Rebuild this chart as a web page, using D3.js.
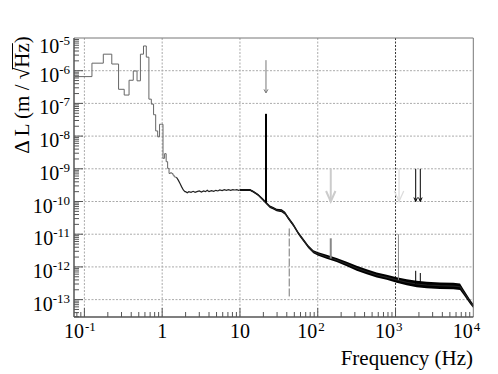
<!DOCTYPE html>
<html><head><meta charset="utf-8">
<script src="https://cdn.jsdelivr.net/npm/d3@7"></script>
<style>body{margin:0;background:#fff}svg{display:block}text{font-family:"Liberation Serif","Tinos","Times New Roman",serif}</style>
</head><body>
<svg id="c" width="498" height="374"></svg>
<script>
// ---------------- data ----------------
// low-frequency histogram (0.05 Hz bins)
const histCenter = [0.10,0.15,0.20,0.25,0.30,0.35,0.40,0.45,0.50,0.55,0.60,0.65,0.70,0.75,0.80,0.85,0.90,0.95,1.00,1.05,1.10,1.15,1.20,1.25,1.30,1.35,1.40,1.45,1.50];
const histValue  = [6.6e-7,1.7e-6,3.2e-6,1.6e-6,2.7e-7,1.8e-7,5.1e-7,9.8e-7,4.9e-7,3.2e-6,5.7e-6,2.6e-6,1.35e-7,9.5e-8,4.5e-8,1.44e-8,9.5e-9,2.3e-8,2.3e-8,2.1e-9,2.9e-9,1.65e-9,1.03e-9,7.2e-10,7.6e-10,7.2e-10,6.4e-10,5.7e-10,5.5e-10];
const histBinWidth = 0.05;

// spectrum line (centre of the noise)
const lineFreq  = [1.525,1.61,1.69,1.78,1.87,1.96,2.0,2.1,2.2,2.35,2.5,2.65,2.8,3.0,3.2,3.4,3.6,3.8,4.0,4.3,4.6,4.9,5.2,5.5,5.9,6.3,6.7,7.1,7.6,8.1,8.6,9.1,9.6,10,13.5,14.9,17.2,20,21.6,24.3,26.9,29.6,34.4,38,41.9,48.6,56.3,65.3,75.7,87.8,101.7,130,175,236,317,426,573,770,1035,1393,1872,2517,3735,5540,6750,7450,8230,9080,10000];
const lineValue = [5.5e-10,4.5e-10,3.6e-10,2.8e-10,2.25e-10,2.0e-10,2.0e-10,1.85e-10,2.0e-10,1.9e-10,2.05e-10,1.9e-10,2.0e-10,2.1e-10,1.95e-10,2.1e-10,2.0e-10,2.2e-10,2.0e-10,2.15e-10,2.05e-10,2.2e-10,2.1e-10,2.25e-10,2.15e-10,2.3e-10,2.2e-10,2.3e-10,2.2e-10,2.3e-10,2.25e-10,2.3e-10,2.2e-10,2.25e-10,2.25e-10,1.99e-10,1.58e-10,1.11e-10,9.2e-11,6.9e-11,6.2e-11,5.5e-11,5.2e-11,4.4e-11,3.1e-11,1.9e-11,1.07e-11,6.6e-12,4.15e-12,2.9e-12,2.5e-12,2.05e-12,1.63e-12,1.23e-12,9.1e-13,7.1e-13,5.65e-13,4.8e-13,4.0e-13,3.4e-13,3.0e-13,2.8e-13,2.66e-13,2.6e-13,2.48e-13,1.74e-13,1.23e-13,8.6e-14,6.4e-14];

// noise envelope above 10 Hz
const bandFreq = [10,13.5,14.9,17.2,20,21.6,24.3,26.9,29.6,34.4,38,41.9,48.6,56.3,65.3,75.7,87.8,101.7,130,175,236,317,426,573,770,1035,1393,1872,2517,3735,5540,6750,7450,8230,9080,10000];
const bandHigh = [2.41e-10,2.41e-10,2.14e-10,1.70e-10,1.21e-10,1.00e-10,7.57e-11,6.77e-11,6.00e-11,5.82e-11,4.84e-11,3.41e-11,2.12e-11,1.18e-11,7.39e-12,4.61e-12,3.24e-12,2.81e-12,2.36e-12,1.87e-12,1.44e-12,1.08e-12,8.51e-13,6.74e-13,5.73e-13,4.83e-13,4.18e-13,3.77e-13,3.52e-13,3.35e-13,3.28e-13,3.12e-13,2.12e-13,1.46e-13,1.01e-13,7.34e-14];
const bandLow  = [2.09e-10,2.09e-10,1.86e-10,1.47e-10,1.02e-10,8.4e-11,6.35e-11,5.67e-11,5.03e-11,4.71e-11,3.92e-11,2.76e-11,1.72e-11,9.59e-12,5.98e-12,3.73e-12,2.62e-12,2.19e-12,1.78e-12,1.41e-12,1.05e-12,7.60e-13,5.98e-13,4.74e-13,4.03e-13,3.28e-13,2.74e-13,2.39e-13,2.22e-13,2.12e-13,2.07e-13,1.97e-13,1.44e-13,1.03e-13,7.36e-14,5.54e-14];

// spectral lines (spikes)
const spikeFreq = [21.6,147,1090,1817,2083];
const spikeTop  = [4.8e-8,7.5e-12,1.0e-11,7.6e-13,6.5e-13];
const spikeBase = [9.2e-11,1.8e-12,4.0e-13,3.0e-13,3.0e-13];

// arrows
const arrowFreq   = [21.6,147,1110,1817,2083];
const arrowTop    = [2.1e-6,1e-9,1e-9,1e-9,1e-9];
const arrowBottom = [2.1e-7,1e-10,1e-10,1e-10,1e-10];

// dashed marker
const dashFreq = [43];
const dashTop = [1.5e-11];
const dashBottom = [1.2e-13];

// ticks
const xTickValues = [0.1,1,10,100,1000,10000];
const xTickBase   = ["10","1","10","10","10","10"];
const xTickExp    = ["-1","","","2","3","4"];
const yTickValues = [1e-5,1e-6,1e-7,1e-8,1e-9,1e-10,1e-11,1e-12,1e-13];
const yTickExp    = ["-5","-6","-7","-8","-9","-10","-11","-12","-13"];

// ---------------- drawing ----------------
const svg = d3.select("#c");
const L = 74, R = 473.3, T = 38, B = 317;
const x = d3.scaleLog().domain([0.0735, 1e4]).range([L, R]);
const y = d3.scaleLog().domain([2.94e-14, 1e-5]).range([B, T]);

// grid
const grid = svg.append("g");
xTickValues.filter(v => v < 1e4).forEach(v => {
  grid.append("line").attr("x1", x(v)).attr("x2", x(v)).attr("y1", T).attr("y2", B)
    .attr("stroke", v === 1000 ? "#333" : "#aaa").attr("stroke-width", 1).attr("stroke-dasharray", "2,1.5");
});
yTickValues.filter(v => v < 1e-5).forEach(v => {
  grid.append("line").attr("x1", L).attr("x2", R).attr("y1", y(v)).attr("y2", y(v))
    .attr("stroke", "#aaa").attr("stroke-width", 1).attr("stroke-dasharray", "2,1.5");
});

// dashed marker
dashFreq.forEach((f, i) => {
  svg.append("line").attr("x1", x(f)).attr("x2", x(f)).attr("y1", y(dashTop[i])).attr("y2", y(dashBottom[i]))
    .attr("stroke", "#777").attr("stroke-width", 1).attr("stroke-dasharray", "8,2");
});

// histogram
const histPts = histCenter.map((c, i) => [c - histBinWidth / 2, histValue[i]]);
histPts.push([histCenter[histCenter.length - 1] + histBinWidth / 2, histValue[histValue.length - 1]]);
svg.append("path").datum(histPts)
  .attr("d", d3.line().x(d => x(d[0])).y(d => y(d[1])).curve(d3.curveStepAfter))
  .attr("fill", "none").attr("stroke", "#666").attr("stroke-width", 1);

// noise band
const band = bandFreq.map((f, i) => [f, bandLow[i], bandHigh[i]]);
svg.append("path").datum(band)
  .attr("d", d3.area().x(d => x(d[0])).y0(d => y(d[1])).y1(d => y(d[2])))
  .attr("fill", "#000");

// centre line
svg.append("path").datum(lineFreq.map((f, i) => [f, lineValue[i]]))
  .attr("d", d3.line().x(d => x(d[0])).y(d => y(d[1])))
  .attr("fill", "none").attr("stroke", "#222").attr("stroke-width", 1.2);

// spikes
const spikeStyle = [{c:"#000",w:2},{c:"#888",w:2},{c:"#888",w:1},{c:"#000",w:1},{c:"#000",w:1}];
spikeFreq.forEach((f, i) => {
  svg.append("line").attr("x1", x(f)).attr("x2", x(f)).attr("y1", y(spikeTop[i])).attr("y2", y(spikeBase[i]))
    .attr("stroke", spikeStyle[i].c).attr("stroke-width", spikeStyle[i].w);
});

// arrows
const arrowStyle = [
  {c:"#777",w:1,hw:2,hh:3.5},
  {c:"#ccc",w:2,hw:4.7,hh:10.5},
  {c:"#ddd",w:1.3,hw:4.7,hh:10.5},
  {c:"#000",w:1,hw:1.8,hh:4},
  {c:"#000",w:1,hw:1.8,hh:4}];
arrowFreq.forEach((f, i) => {
  const s = arrowStyle[i], ax = x(f), y0 = y(arrowTop[i]), y1 = y(arrowBottom[i]);
  const g = svg.append("g").attr("stroke", s.c).attr("stroke-width", s.w).attr("fill", "none");
  g.append("line").attr("x1", ax).attr("x2", ax).attr("y1", y0).attr("y2", y1);
  g.append("path").attr("d", `M${ax - s.hw},${y1 - s.hh}L${ax},${y1}L${ax + s.hw},${y1 - s.hh}`);
});

// frame
const frame = svg.append("g").attr("fill", "none");
frame.append("line").attr("x1", L).attr("x2", R).attr("y1", T).attr("y2", T).attr("stroke", "#777").attr("stroke-width", 1);
frame.append("line").attr("x1", R).attr("x2", R).attr("y1", T).attr("y2", B).attr("stroke", "#777").attr("stroke-width", 1);
frame.append("line").attr("x1", L).attr("x2", L).attr("y1", T).attr("y2", B).attr("stroke", "#555").attr("stroke-width", 1.5);
frame.append("line").attr("x1", L).attr("x2", R).attr("y1", B).attr("y2", B).attr("stroke", "#555").attr("stroke-width", 1.5);

// ticks (inside)
const ticks = svg.append("g").attr("stroke", "#555").attr("stroke-width", 1);
for (let e = -14; e <= -6; e++) {
  for (let m = 1; m <= 9; m++) {
    const v = m * Math.pow(10, e);
    if (v < 2.94e-14 || v > 1e-5) continue;
    const len = m === 1 ? 9 : 5;
    ticks.append("line").attr("x1", L).attr("x2", L + len).attr("y1", y(v)).attr("y2", y(v));
  }
}
for (let e = -2; e <= 3; e++) {
  for (let m = 1; m <= 9; m++) {
    const v = m * Math.pow(10, e);
    if (v < 0.0735 || v > 1e4) continue;
    const len = m === 1 ? 9 : 5;
    ticks.append("line").attr("x1", x(v)).attr("x2", x(v)).attr("y1", B).attr("y2", B - len);
  }
}

// y tick labels
yTickValues.forEach((v, i) => {
  const t = svg.append("text").attr("x", 70).attr("y", y(v) + 11 + (i === 0 ? 4 : 0))
    .attr("text-anchor", "end").attr("font-size", 20).attr("fill", "#000");
  t.append("tspan").text("10");
  t.append("tspan").attr("font-size", 13).attr("dy", -8).text(yTickExp[i]);
});

// x tick labels
xTickValues.forEach((v, i) => {
  if (xTickExp[i] === "") {
    svg.append("text").attr("x", x(v)).attr("y", 337.5).attr("text-anchor", "middle")
      .attr("font-size", 20).text(xTickBase[i]);
  } else {
    svg.append("text").attr("x", x(v) - 0.5).attr("y", 337.5).attr("text-anchor", "end")
      .attr("font-size", 20).text(xTickBase[i]);
    svg.append("text").attr("x", x(v) + 0.5).attr("y", 331).attr("text-anchor", "start")
      .attr("font-size", 13).text(xTickExp[i]);
  }
});

// axis titles
svg.append("text").attr("x", 473).attr("y", 365).attr("text-anchor", "end")
  .attr("font-size", 21).text("Frequency (Hz)");

const yt = svg.append("g").attr("transform", "translate(29,95) rotate(-90)");
const ytext = yt.append("text").attr("x", 0).attr("y", 0).attr("text-anchor", "middle")
  .attr("font-size", 21).text("\u0394 L (m / \u221AHz)");
const node = ytext.node();
const str = node.textContent;
const iRad = str.indexOf("\u221A");
const iEnd = str.indexOf(")");
const xs = node.getStartPositionOfChar(iRad).x + node.getSubStringLength(iRad, 1) * 0.85;
const xe = node.getEndPositionOfChar(iEnd - 1).x;
yt.append("line").attr("x1", xs).attr("x2", xe).attr("y1", -16.5).attr("y2", -16.5)
  .attr("stroke", "#000").attr("stroke-width", 1);
</script>
</body></html>
